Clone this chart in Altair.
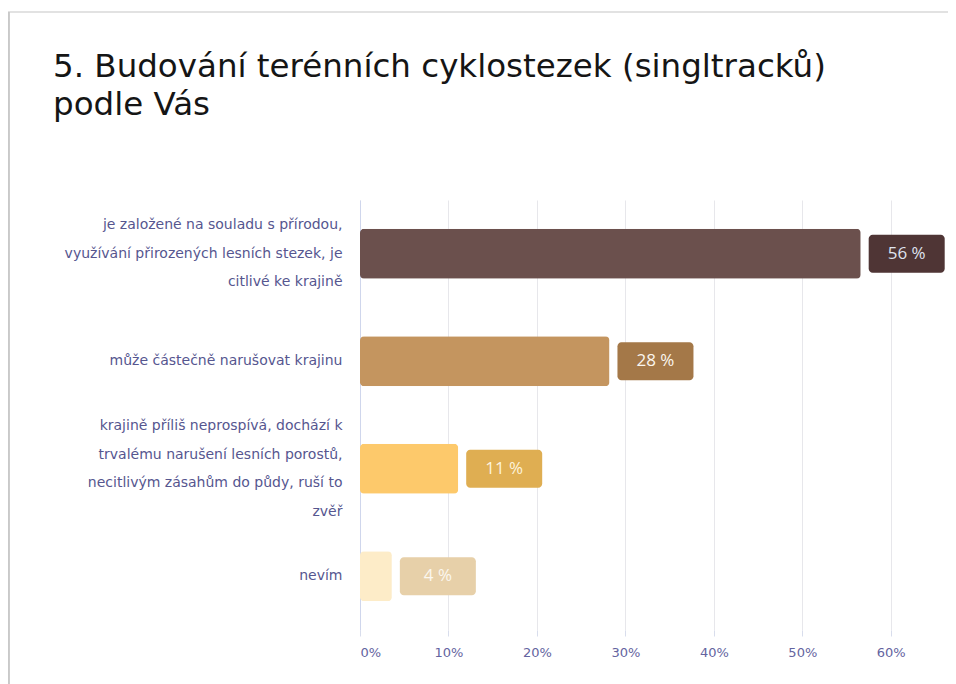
import altair as alt
import pandas as pd

title_lines = ["5. Budování terénních cyklostezek (singltracků)", "podle Vás"]

categories = [
    "je založené na souladu s přírodou,|využívání přirozených lesních stezek, je|citlivé ke krajině",
    "může částečně narušovat krajinu",
    "krajině příliš neprospívá, dochází k|trvalému narušení lesních porostů,|necitlivým zásahům do půdy,  ruší to|zvěř",
    "nevím",
]
values = [0.566, 0.282, 0.111, 0.036]
value_labels = ["56 %", "28 %", "11 %", "4 %"]

bar_colors = ["#6b504d", "#c4955f", "#fdc96b", "#fdecc8"]
box_colors = ["#4f3535", "#a47848", "#dfae52", "#e7d0a9"]
text_colors = ["#dfe3ef", "#fbf6ee", "#fdf3dc", "#fbf7ef"]

df = pd.DataFrame({"cat": categories, "value": values, "label": value_labels})
title_df = pd.DataFrame({"line": title_lines, "row": [0, 1]})

W, H = 575, 430
BOX_W = 76
LH = 28.5
LABEL_FONT = "DejaVu Sans"

y_enc = alt.Y(
    "cat:N",
    sort=categories,
    scale=alt.Scale(paddingInner=0.535, paddingOuter=0.2675),
    axis=alt.Axis(
        title=None,
        labelExpr="split(datum.label, '|')",
        labelAlign="right",
        labelPadding=18,
        labelColor="#56568f",
        labelFontSize=14,
        labelFont=LABEL_FONT,
        labelLineHeight=LH,
        labelLimit=400,
        labelOffset={
            "condition": [
                {"test": "length(split(datum.value, '|')) == 4", "value": -1.5 * LH},
                {"test": "length(split(datum.value, '|')) == 3", "value": -1.0 * LH},
            ],
            "value": 0,
        },
        ticks=False,
        domain=True,
        domainColor="#cfd6ec",
        grid=False,
    ),
)

x_enc = alt.X(
    "value:Q",
    scale=alt.Scale(domain=[0, 0.65], nice=False),
    axis=alt.Axis(
        title=None,
        format=".0%",
        values=[0, 0.1, 0.2, 0.3, 0.4, 0.5, 0.6],
        grid=True,
        gridColor="#e7e7eb",
        domain=False,
        ticks=True,
        tickColor="#d8ddec",
        tickSize=6,
        labelColor="#6464a0",
        labelFontSize=13,
        labelFont=LABEL_FONT,
        labelPadding=10,
    ),
)

bars = alt.Chart(df).mark_bar(cornerRadius=4).encode(
    x=x_enc,
    y=y_enc,
    color=alt.Color("cat:N", scale=alt.Scale(domain=categories, range=bar_colors), legend=None),
)

boxes = alt.Chart(df).mark_bar(cornerRadius=4, size=38, xOffset=8, x2Offset=8 + BOX_W).encode(
    x=alt.X("value:Q"),
    x2=alt.X2("value:Q"),
    y=alt.Y("cat:N", sort=categories),
    color=alt.Color("cat:N", scale=alt.Scale(domain=categories, range=box_colors), legend=None),
)

texts = alt.Chart(df).mark_text(
    dx=8 + BOX_W / 2, align="center", baseline="middle", fontSize=17, font="Open Sans"
).encode(
    x=alt.X("value:Q"),
    y=alt.Y("cat:N", sort=categories),
    text="label:N",
    color=alt.Color("cat:N", scale=alt.Scale(domain=categories, range=text_colors), legend=None),
)

TITLE_FONT = dict(align="left", baseline="alphabetic", fontSize=32.5, font="DejaVu Sans", color="#151515")
title1 = alt.Chart(title_df).transform_filter("datum.row == 0").mark_text(**TITLE_FONT).encode(
    x=alt.value(-307), y=alt.value(-123), text="line:N"
)
title2 = alt.Chart(title_df).transform_filter("datum.row == 1").mark_text(**TITLE_FONT).encode(
    x=alt.value(-307), y=alt.value(-85), text="line:N"
)

frame_top = alt.Chart(df).mark_rule(color="#e2e2e2", strokeWidth=2).encode(
    x=alt.value(-352), x2=alt.value(620), y=alt.value(-188), y2=alt.value(-188)
)
frame_left = alt.Chart(df).mark_rule(color="#c9c9c9", strokeWidth=3).encode(
    x=alt.value(-352), x2=alt.value(-352), y=alt.value(-188), y2=alt.value(520)
)

chart = (
    alt.layer(frame_top, frame_left, title1, title2, bars, boxes, texts)
    .resolve_scale(color="independent")
    .properties(
        width=W,
        height=H,
        background="white",
        autosize=alt.AutoSizeParams(type="none"),
        padding={"left": 352, "top": 192, "right": 13, "bottom": 54},
    )
    .configure_view(stroke=None)
)

chart.save("out.html", embed_options={"renderer": "svg", "actions": False})
